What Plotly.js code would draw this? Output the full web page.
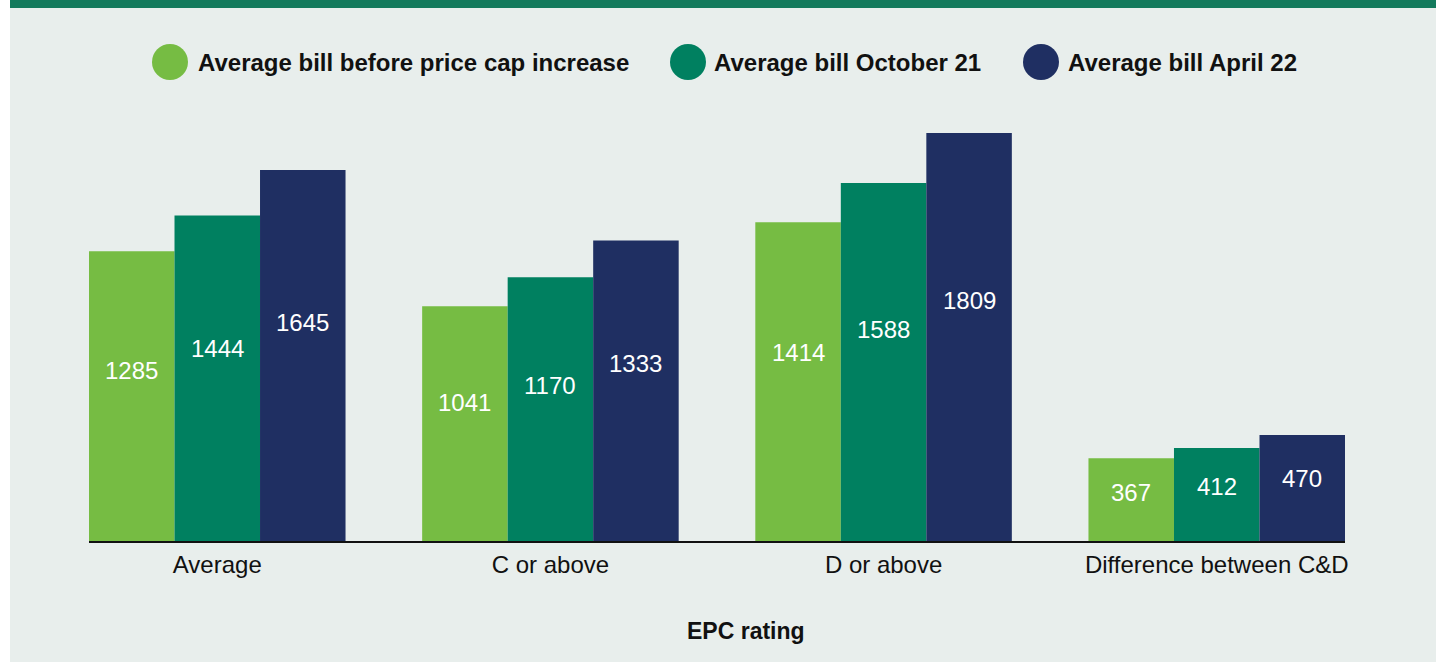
<!DOCTYPE html>
<html>
<head>
<meta charset="utf-8">
<script src="https://cdn.plot.ly/plotly-3.0.1.min.js"></script>
<style>
  html, body { margin: 0; padding: 0; background: #ffffff; width: 1436px; height: 662px; overflow: hidden; }
  #frame { position: absolute; left: 10px; top: 0; width: 1426px; height: 662px; background: #e8eeec; }
  #band { position: absolute; left: 0; top: 0; width: 1426px; height: 8px; background: #137a5c; }
  #chart { position: absolute; left: 0; top: 0; width: 1426px; height: 662px; }
</style>
</head>
<body>
<div id="frame"><div id="band"></div><div id="chart"></div></div>
<script>
const categories = ["Average", "C or above", "D or above", "Difference between C&D"];
const seriesNames = ["Average bill before price cap increase", "Average bill October 21", "Average bill April 22"];
const beforeCap = [1285, 1041, 1414, 367];
const october21 = [1444, 1170, 1588, 412];
const april22 = [1645, 1333, 1809, 470];
const seriesValues = [beforeCap, october21, april22];
const colors = ["#76bc43", "#008060", "#1f2f62"];

const W = 1426, H = 662;
const margin = {l: 79, r: 91, t: 100, b: 121};
const plotW = W - margin.l - margin.r;
const plotH = H - margin.t - margin.b;
const xRange = [-0.385, 3.385];
const bargap = 0.23;
const barPx = plotW / (xRange[1] - xRange[0]) * (1 - bargap) / 3;
const px2x = px => (px - 10 - margin.l) / plotW;
const py2y = py => 1 - (py - margin.t) / plotH;

const traces = seriesValues.map((vals, i) => ({
  type: 'bar',
  x: categories,
  y: vals,
  name: seriesNames[i],
  marker: {color: colors[i]},
  showlegend: false,
  hoverinfo: 'x+y'
}));

const annotations = [];
seriesValues.forEach((vals, i) => {
  vals.forEach((v, j) => {
    annotations.push({
      x: categories[j], y: v * 0.59, xref: 'x', yref: 'y',
      xshift: (i - 1) * barPx,
      text: String(v), showarrow: false,
      font: {family: 'Liberation Sans, Arial, sans-serif', size: 24, color: '#ffffff'}
    });
  });
});

// custom legend
const legendCircleX = [170, 688, 1041];
const legendTextX = [196, 712, 1066];
const legendY = 62;
const shapes = [];
seriesNames.forEach((n, i) => {
  shapes.push({
    type: 'circle', xref: 'paper', yref: 'paper',
    xsizemode: 'pixel', ysizemode: 'pixel',
    xanchor: px2x(legendCircleX[i]), yanchor: py2y(legendY),
    x0: -18, x1: 18, y0: -18, y1: 18,
    fillcolor: colors[i], line: {width: 0}
  });
  annotations.push({
    xref: 'paper', yref: 'paper', x: px2x(legendTextX[i]), y: py2y(legendY),
    xanchor: 'left', yanchor: 'middle', text: '<b>' + n + '</b>', showarrow: false,
    font: {family: 'Liberation Sans, Arial, sans-serif', size: 24, color: '#111111'}
  });
});

annotations.push({
  xref: 'paper', yref: 'paper', x: px2x(746), y: py2y(631),
  xanchor: 'center', yanchor: 'middle', text: '<b>EPC rating</b>', showarrow: false,
  font: {family: 'Liberation Sans, Arial, sans-serif', size: 23, color: '#111111'}
});

const layout = {
  width: W, height: H,
  margin: margin,
  paper_bgcolor: 'rgba(0,0,0,0)',
  plot_bgcolor: 'rgba(0,0,0,0)',
  barmode: 'group',
  bargap: bargap,
  bargroupgap: 0,
  showlegend: false,
  font: {family: 'Liberation Sans, Arial, sans-serif', size: 24, color: '#111111'},
  xaxis: {
    type: 'category', range: xRange, showline: true, linecolor: '#111111', linewidth: 1.5,
    ticks: '', showgrid: false, zeroline: false, fixedrange: true, ticklabelstandoff: 2,
    tickfont: {size: 24, color: '#111111'}
  },
  yaxis: {
    range: [0, plotH / 0.2255], visible: false, showgrid: false, zeroline: false, fixedrange: true
  },
  shapes: shapes,
  annotations: annotations
};

Plotly.newPlot('chart', traces, layout, {displayModeBar: false, staticPlot: true});
</script>
</body>
</html>
